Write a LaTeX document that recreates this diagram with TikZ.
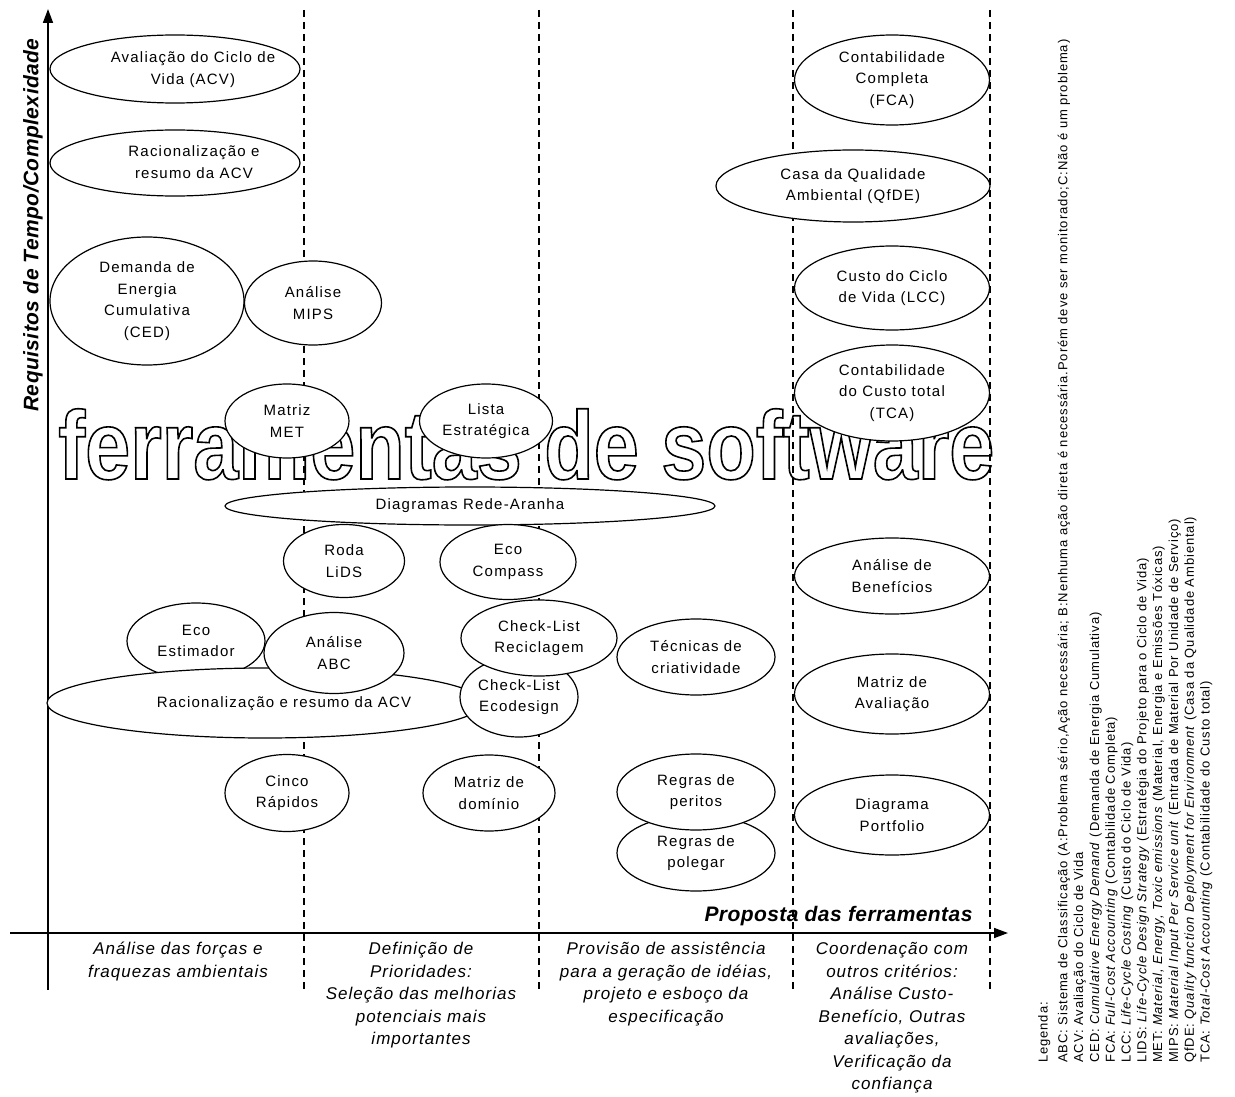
\documentclass[tikz,border=0pt]{standalone}
\usepackage{fontspec}
\setmainfont{Liberation Sans}
\newfontfamily\spacedfont[LetterSpace=8]{Liberation Sans}
\newfontfamily\phasefamily[LetterSpace=6]{Liberation Sans}
\newfontfamily\axisfamily[LetterSpace=2]{Liberation Sans}
\newfontfamily\legendfamily[LetterSpace=7]{Liberation Sans}
\newfontfamily\captionfamily[FakeStretch=0.835]{Liberation Sans}
\usetikzlibrary{shapes.geometric,arrows.meta}
\newcommand\toolfont{\spacedfont\fontsize{15}{21.5}\selectfont}
\newcommand\phasefont{\phasefamily\fontsize{17}{22.5}\selectfont\itshape}
\newcommand\axisfont{\axisfamily\fontsize{21}{24}\selectfont\bfseries\itshape}
\newcommand\legendfont{\legendfamily\fontsize{13}{15.8}\selectfont}
% hollow (stroked) lettering
\newcommand\hollowtext[1]{\special{pdf:code 1 Tr 1.6 w}#1\special{pdf:code 0 Tr}}
% label set off-centre inside its ellipse (the box itself takes no room)
\newcommand\offsetlabel[2]{\makebox[0pt]{\hspace*{#1}\begin{tabular}{@{}c@{}}#2\end{tabular}}}
\begin{document}
\begin{tikzpicture}[x=1pt,y=-1pt,
  tool/.style={ellipse, draw, fill=white, line width=1.2pt, inner sep=0pt,
               align=center, font=\toolfont},
  axisline/.style={line width=1.6pt, -{Triangle[length=14pt,width=10pt]}},
  divider/.style={line width=1.1pt, dash pattern=on 7pt off 5pt},
  phase/.style={align=center, anchor=north, inner sep=0pt, font=\phasefont},
]
\useasboundingbox (0,0) rectangle (1235,1097);

% large outlined caption behind the tools
\node[inner sep=0pt, anchor=base west, font=\captionfamily\fontsize{97}{97}\selectfont\bfseries] (caption) at (58,479)
  {\hollowtext{ferramentas de software}};

% phase dividers
\foreach \x/\n in {304/a,539/b,793/c,990/d}{
  \coordinate (top\n) at (\x,10);
  \coordinate (bot\n) at (\x,990);
  \draw[divider] (top\n) -- (bot\n);
}

% axes
\coordinate (yfoot) at (48,990);
\coordinate (ytip) at (48,9);
\coordinate (xfoot) at (10,933);
\coordinate (xtip) at (1008,933);
\draw[axisline] (yfoot) -- (ytip);
\draw[axisline] (xfoot) -- (xtip);

\node[rotate=90, font=\axisfont] (ylabel) at (33,225) {Requisitos de Tempo/Complexidade};
\node[font=\axisfont, anchor=base east] (xlabel) at (976,921) {Proposta das ferramentas};

% tools, first columns
\node[tool, minimum width=250pt, minimum height=68pt] (acv) at (175,69) {\offsetlabel{36pt}{Avaliação do Ciclo de\\Vida (ACV)}};
\node[tool, minimum width=250pt, minimum height=66pt] (racio) at (175,163) {\offsetlabel{38pt}{Racionalização e\\resumo da ACV}};
\node[tool, minimum width=194pt, minimum height=128pt] (ced) at (147,301) {Demanda de\\Energia\\Cumulativa\\(CED)};
\node[tool, minimum width=137pt, minimum height=84pt] (mips) at (313,303) {Análise\\MIPS};
\node[tool, minimum width=124pt, minimum height=74pt] (met) at (287,421) {Matriz\\MET};
\node[tool, minimum width=133pt, minimum height=74pt] (lista) at (486,421) {Lista\\Estratégica};
\node[tool, minimum width=490pt, minimum height=38pt] (aranha) at (470,506) {Diagramas Rede-Aranha};
\node[tool, minimum width=121pt, minimum height=73pt] (lids) at (344,561) {Roda\\LiDS};
\node[tool, minimum width=136pt, minimum height=75pt] (compass) at (508,562) {Eco\\Compass};
\node[tool, minimum width=138pt, minimum height=76pt] (estim) at (196,641) {Eco\\Estimador};
\node[tool, minimum width=436pt, minimum height=70pt] (raciob) at (265,703) {\offsetlabel{38pt}{Racionalização e resumo da ACV}};
\node[tool, minimum width=140pt, minimum height=81pt] (abc) at (334,653) {Análise\\ABC};
\node[tool, minimum width=118pt, minimum height=80pt] (ecod) at (519,697) {Check-List\\Ecodesign};
\node[tool, minimum width=156pt, minimum height=76pt] (recic) at (539,638) {Check-List\\Reciclagem};
\node[tool, minimum width=158pt, minimum height=76pt] (criat) at (696,657) {Técnicas de\\criatividade};
\node[tool, minimum width=124pt, minimum height=77pt] (cinco) at (287,793) {Cinco\\Rápidos};
\node[tool, minimum width=132pt, minimum height=76pt] (dominio) at (489,793) {Matriz de\\domínio};
\node[tool, minimum width=158pt, minimum height=76pt] (polegar) at (696,853) {Regras de\\polegar};
\node[tool, minimum width=158pt, minimum height=76pt] (peritos) at (696,792) {Regras de\\peritos};

% tools, last column
\node[tool, minimum width=195pt, minimum height=90pt] (fca) at (892,80) {Contabilidade\\Completa\\(FCA)};
\node[tool, minimum width=274pt, minimum height=72pt] (qfde) at (853,186) {Casa da Qualidade\\Ambiental (QfDE)};
\node[tool, minimum width=195pt, minimum height=84pt] (lcc) at (892,288) {Custo do Ciclo\\de Vida (LCC)};
\node[tool, minimum width=195pt, minimum height=96pt] (tca) at (892,393) {Contabilidade\\do Custo total\\(TCA)};
\node[tool, minimum width=195pt, minimum height=76pt] (benef) at (892,576) {Análise de\\Benefícios};
\node[tool, minimum width=195pt, minimum height=80pt] (aval) at (892,694) {Matriz de\\Avaliação};
\node[tool, minimum width=195pt, minimum height=80pt] (portf) at (892,815) {Diagrama\\Portfolio};

% phases along the horizontal axis
\node[phase] (ph1) at (178,942) {Análise das forças e\\fraquezas ambientais};
\node[phase] (ph2) at (421,942) {Definição de\\Prioridades:\\Seleção das melhorias\\potenciais mais\\importantes};
\node[phase] (ph3) at (666,942) {Provisão de assistência\\para a geração de idéias,\\projeto e esboço da\\especificação};
\node[phase] (ph4) at (892,942) {Coordenação com\\outros critérios:\\Análise Custo-\\Benefício, Outras\\avaliações,\\Verificação da\\confiança};

% legend, set sideways
\node[rotate=90, anchor=north west, align=left, inner sep=0pt, font=\legendfont] (legend) at (1038,1063)
{Legenda:\\[4pt]
ABC: Sistema de Classificação (A:Problema sério,Ação necessária; B:Nenhuma ação direta é necessária.Porém deve ser monitorado;C:Não é um problema)\\
ACV: Avaliação do Ciclo de Vida\\
CED: \textit{Cumulative Energy Demand} (Demanda de Energia Cumulativa)\\
FCA: \textit{Full-Cost Accounting} (Contabilidade Completa)\\
LCC: \textit{Life-Cycle Costing} (Custo do Ciclo de Vida)\\
LIDS: \textit{Life-Cycle Design Strategy} (Estratégia do Projeto para o Ciclo de Vida)\\
MET: \textit{Material, Energy, Toxic emissions} (Material, Energia e Emissões Tóxicas)\\
MIPS: \textit{Material Input Per Service unit} (Entrada de Material Por Unidade de Serviço)\\
QfDE: \textit{Quality function Deployment for Environment} (Casa da Qualidade Ambiental)\\
TCA: \textit{Total-Cost Accounting} (Contabilidade do Custo total)};
\end{tikzpicture}
\end{document}
